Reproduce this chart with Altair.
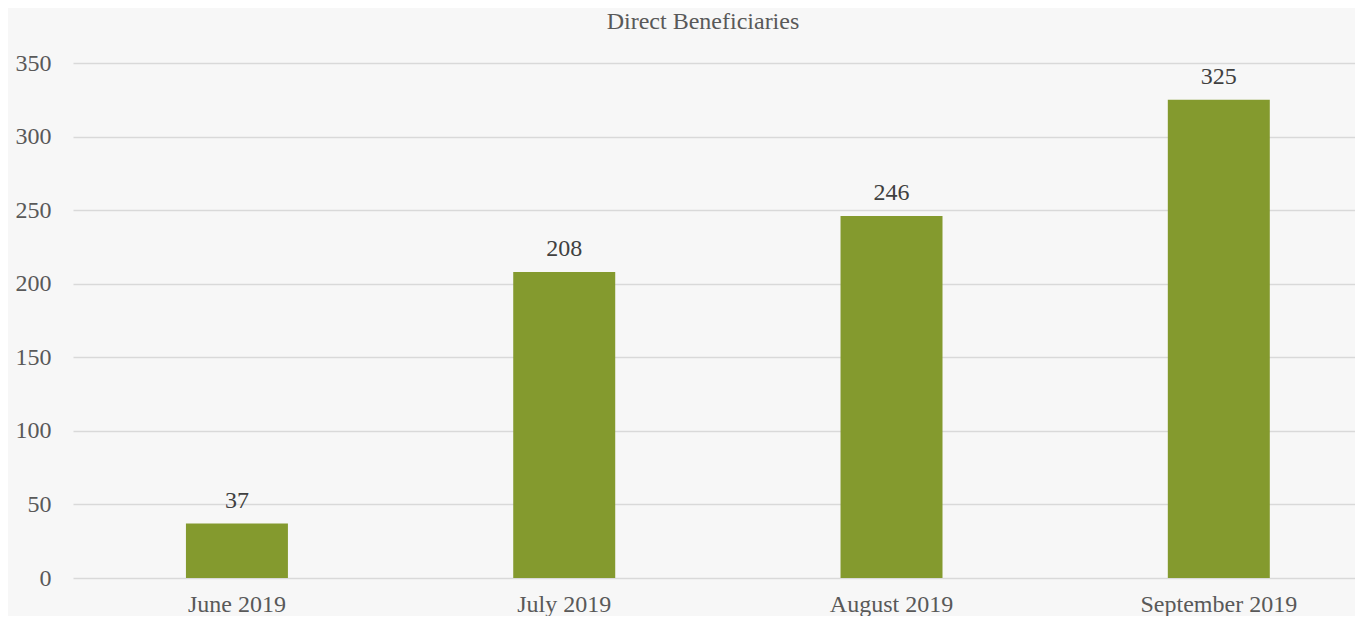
import altair as alt
import pandas as pd

months = ["June 2019", "July 2019", "August 2019", "September 2019"]
beneficiaries = [37, 208, 246, 325]
y_ticks = [0, 50, 100, 150, 200, 250, 300, 350]

df = pd.DataFrame({"month": months, "value": beneficiaries})

FONT = "Liberation Serif"
FS = 24
BAR = "#849A2E"
AXIS_TXT = "#595959"
VAL_TXT = "#404040"
BG = "#f7f7f7"

x = alt.X(
    "month:N",
    sort=months,
    title=None,
    scale=alt.Scale(paddingInner=0.6884, paddingOuter=0.3027, align=0.57),
    axis=alt.Axis(
        labelAngle=0,
        labelFont=FONT,
        labelFontSize=FS,
        labelColor=AXIS_TXT,
        labelBaseline="alphabetic",
        labelPadding=33,
        ticks=False,
        tickSize=0,
        domain=False,
        grid=False,
    ),
)
y = alt.Y(
    "value:Q",
    title=None,
    scale=alt.Scale(domain=[0, 350], nice=False),
    axis=alt.Axis(
        values=y_ticks,
        labelFont=FONT,
        labelFontSize=FS,
        labelColor=AXIS_TXT,
        labelPadding=22,
        ticks=False,
        tickSize=0,
        domain=False,
        grid=True,
        gridColor="#d9d9d9",
        gridWidth=1.3,
    ),
)

bars = alt.Chart(df).mark_bar(color=BAR).encode(x=x, y=y)
labels = alt.Chart(df).mark_text(
    font=FONT, fontSize=FS, color=VAL_TXT, baseline="alphabetic", align="center", dy=-16
).encode(x=x, y=y, text="value:Q")

chart = (
    alt.layer(bars, labels)
    .properties(
        width=1282,
        height=515,
        title=alt.TitleParams(
            "Direct Beneficiaries",
            font=FONT,
            fontSize=FS,
            fontWeight="normal",
            color=AXIS_TXT,
            anchor="middle",
            baseline="alphabetic",
            offset=-2,
            dx=-11,
        ),
        padding={"left": 7, "top": 2, "right": 0, "bottom": 0},
        background=BG,
    )
    .configure_view(stroke=None)
)

chart.save("out.html", embed_options={"renderer": "svg", "actions": False})
